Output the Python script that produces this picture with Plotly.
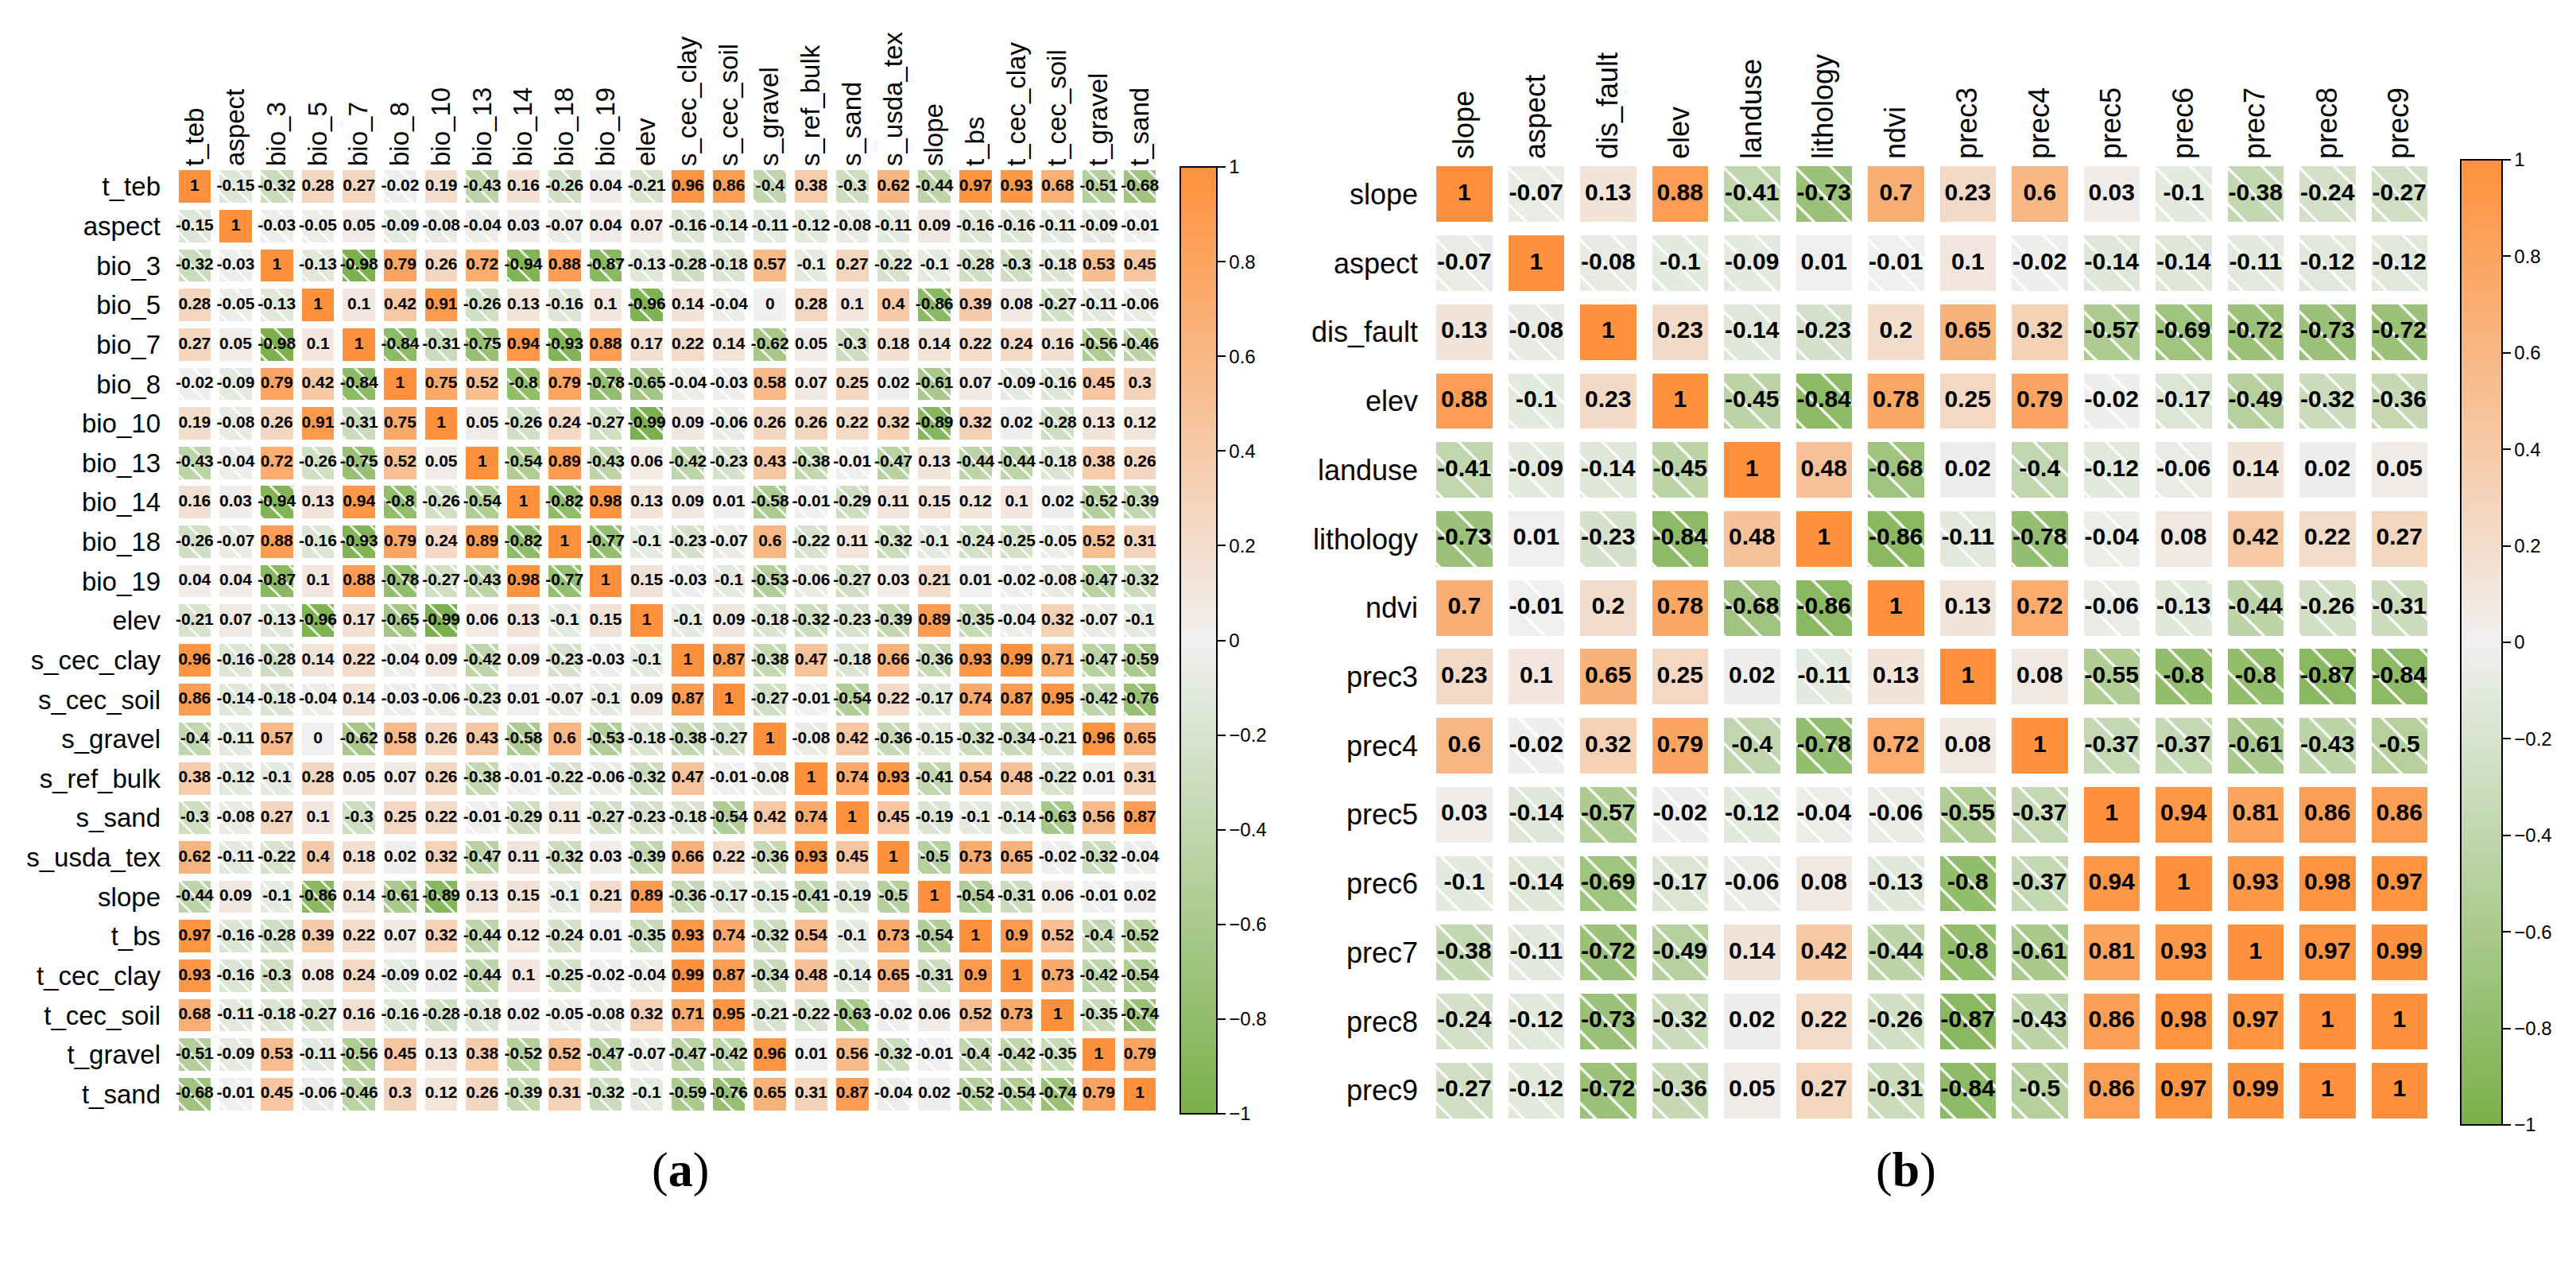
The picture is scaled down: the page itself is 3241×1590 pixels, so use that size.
import plotly.graph_objects as go

# ---------------- data ----------------
labels_a = ["t_teb", "aspect", "bio_3", "bio_5", "bio_7", "bio_8", "bio_10", "bio_13",
            "bio_14", "bio_18", "bio_19", "elev", "s_cec_clay", "s_cec_soil", "s_gravel",
            "s_ref_bulk", "s_sand", "s_usda_tex", "slope", "t_bs", "t_cec_clay",
            "t_cec_soil", "t_gravel", "t_sand"]

corr_a = [
    [1, -0.15, -0.32, 0.28, 0.27, -0.02, 0.19, -0.43, 0.16, -0.26, 0.04, -0.21, 0.96, 0.86, -0.4, 0.38, -0.3, 0.62, -0.44, 0.97, 0.93, 0.68, -0.51, -0.68],
    [-0.15, 1, -0.03, -0.05, 0.05, -0.09, -0.08, -0.04, 0.03, -0.07, 0.04, 0.07, -0.16, -0.14, -0.11, -0.12, -0.08, -0.11, 0.09, -0.16, -0.16, -0.11, -0.09, -0.01],
    [-0.32, -0.03, 1, -0.13, -0.98, 0.79, 0.26, 0.72, -0.94, 0.88, -0.87, -0.13, -0.28, -0.18, 0.57, -0.1, 0.27, -0.22, -0.1, -0.28, -0.3, -0.18, 0.53, 0.45],
    [0.28, -0.05, -0.13, 1, 0.1, 0.42, 0.91, -0.26, 0.13, -0.16, 0.1, -0.96, 0.14, -0.04, 0, 0.28, 0.1, 0.4, -0.86, 0.39, 0.08, -0.27, -0.11, -0.06],
    [0.27, 0.05, -0.98, 0.1, 1, -0.84, -0.31, -0.75, 0.94, -0.93, 0.88, 0.17, 0.22, 0.14, -0.62, 0.05, -0.3, 0.18, 0.14, 0.22, 0.24, 0.16, -0.56, -0.46],
    [-0.02, -0.09, 0.79, 0.42, -0.84, 1, 0.75, 0.52, -0.8, 0.79, -0.78, -0.65, -0.04, -0.03, 0.58, 0.07, 0.25, 0.02, -0.61, 0.07, -0.09, -0.16, 0.45, 0.3],
    [0.19, -0.08, 0.26, 0.91, -0.31, 0.75, 1, 0.05, -0.26, 0.24, -0.27, -0.99, 0.09, -0.06, 0.26, 0.26, 0.22, 0.32, -0.89, 0.32, 0.02, -0.28, 0.13, 0.12],
    [-0.43, -0.04, 0.72, -0.26, -0.75, 0.52, 0.05, 1, -0.54, 0.89, -0.43, 0.06, -0.42, -0.23, 0.43, -0.38, -0.01, -0.47, 0.13, -0.44, -0.44, -0.18, 0.38, 0.26],
    [0.16, 0.03, -0.94, 0.13, 0.94, -0.8, -0.26, -0.54, 1, -0.82, 0.98, 0.13, 0.09, 0.01, -0.58, -0.01, -0.29, 0.11, 0.15, 0.12, 0.1, 0.02, -0.52, -0.39],
    [-0.26, -0.07, 0.88, -0.16, -0.93, 0.79, 0.24, 0.89, -0.82, 1, -0.77, -0.1, -0.23, -0.07, 0.6, -0.22, 0.11, -0.32, -0.1, -0.24, -0.25, -0.05, 0.52, 0.31],
    [0.04, 0.04, -0.87, 0.1, 0.88, -0.78, -0.27, -0.43, 0.98, -0.77, 1, 0.15, -0.03, -0.1, -0.53, -0.06, -0.27, 0.03, 0.21, 0.01, -0.02, -0.08, -0.47, -0.32],
    [-0.21, 0.07, -0.13, -0.96, 0.17, -0.65, -0.99, 0.06, 0.13, -0.1, 0.15, 1, -0.1, 0.09, -0.18, -0.32, -0.23, -0.39, 0.89, -0.35, -0.04, 0.32, -0.07, -0.1],
    [0.96, -0.16, -0.28, 0.14, 0.22, -0.04, 0.09, -0.42, 0.09, -0.23, -0.03, -0.1, 1, 0.87, -0.38, 0.47, -0.18, 0.66, -0.36, 0.93, 0.99, 0.71, -0.47, -0.59],
    [0.86, -0.14, -0.18, -0.04, 0.14, -0.03, -0.06, -0.23, 0.01, -0.07, -0.1, 0.09, 0.87, 1, -0.27, -0.01, -0.54, 0.22, -0.17, 0.74, 0.87, 0.95, -0.42, -0.76],
    [-0.4, -0.11, 0.57, 0, -0.62, 0.58, 0.26, 0.43, -0.58, 0.6, -0.53, -0.18, -0.38, -0.27, 1, -0.08, 0.42, -0.36, -0.15, -0.32, -0.34, -0.21, 0.96, 0.65],
    [0.38, -0.12, -0.1, 0.28, 0.05, 0.07, 0.26, -0.38, -0.01, -0.22, -0.06, -0.32, 0.47, -0.01, -0.08, 1, 0.74, 0.93, -0.41, 0.54, 0.48, -0.22, 0.01, 0.31],
    [-0.3, -0.08, 0.27, 0.1, -0.3, 0.25, 0.22, -0.01, -0.29, 0.11, -0.27, -0.23, -0.18, -0.54, 0.42, 0.74, 1, 0.45, -0.19, -0.1, -0.14, -0.63, 0.56, 0.87],
    [0.62, -0.11, -0.22, 0.4, 0.18, 0.02, 0.32, -0.47, 0.11, -0.32, 0.03, -0.39, 0.66, 0.22, -0.36, 0.93, 0.45, 1, -0.5, 0.73, 0.65, -0.02, -0.32, -0.04],
    [-0.44, 0.09, -0.1, -0.86, 0.14, -0.61, -0.89, 0.13, 0.15, -0.1, 0.21, 0.89, -0.36, -0.17, -0.15, -0.41, -0.19, -0.5, 1, -0.54, -0.31, 0.06, -0.01, 0.02],
    [0.97, -0.16, -0.28, 0.39, 0.22, 0.07, 0.32, -0.44, 0.12, -0.24, 0.01, -0.35, 0.93, 0.74, -0.32, 0.54, -0.1, 0.73, -0.54, 1, 0.9, 0.52, -0.4, -0.52],
    [0.93, -0.16, -0.3, 0.08, 0.24, -0.09, 0.02, -0.44, 0.1, -0.25, -0.02, -0.04, 0.99, 0.87, -0.34, 0.48, -0.14, 0.65, -0.31, 0.9, 1, 0.73, -0.42, -0.54],
    [0.68, -0.11, -0.18, -0.27, 0.16, -0.16, -0.28, -0.18, 0.02, -0.05, -0.08, 0.32, 0.71, 0.95, -0.21, -0.22, -0.63, -0.02, 0.06, 0.52, 0.73, 1, -0.35, -0.74],
    [-0.51, -0.09, 0.53, -0.11, -0.56, 0.45, 0.13, 0.38, -0.52, 0.52, -0.47, -0.07, -0.47, -0.42, 0.96, 0.01, 0.56, -0.32, -0.01, -0.4, -0.42, -0.35, 1, 0.79],
    [-0.68, -0.01, 0.45, -0.06, -0.46, 0.3, 0.12, 0.26, -0.39, 0.31, -0.32, -0.1, -0.59, -0.76, 0.65, 0.31, 0.87, -0.04, 0.02, -0.52, -0.54, -0.74, 0.79, 1],
]

labels_b = ["slope", "aspect", "dis_fault", "elev", "landuse", "lithology", "ndvi",
            "prec3", "prec4", "prec5", "prec6", "prec7", "prec8", "prec9"]

corr_b = [
    [1, -0.07, 0.13, 0.88, -0.41, -0.73, 0.7, 0.23, 0.6, 0.03, -0.1, -0.38, -0.24, -0.27],
    [-0.07, 1, -0.08, -0.1, -0.09, 0.01, -0.01, 0.1, -0.02, -0.14, -0.14, -0.11, -0.12, -0.12],
    [0.13, -0.08, 1, 0.23, -0.14, -0.23, 0.2, 0.65, 0.32, -0.57, -0.69, -0.72, -0.73, -0.72],
    [0.88, -0.1, 0.23, 1, -0.45, -0.84, 0.78, 0.25, 0.79, -0.02, -0.17, -0.49, -0.32, -0.36],
    [-0.41, -0.09, -0.14, -0.45, 1, 0.48, -0.68, 0.02, -0.4, -0.12, -0.06, 0.14, 0.02, 0.05],
    [-0.73, 0.01, -0.23, -0.84, 0.48, 1, -0.86, -0.11, -0.78, -0.04, 0.08, 0.42, 0.22, 0.27],
    [0.7, -0.01, 0.2, 0.78, -0.68, -0.86, 1, 0.13, 0.72, -0.06, -0.13, -0.44, -0.26, -0.31],
    [0.23, 0.1, 0.65, 0.25, 0.02, -0.11, 0.13, 1, 0.08, -0.55, -0.8, -0.8, -0.87, -0.84],
    [0.6, -0.02, 0.32, 0.79, -0.4, -0.78, 0.72, 0.08, 1, -0.37, -0.37, -0.61, -0.43, -0.5],
    [0.03, -0.14, -0.57, -0.02, -0.12, -0.04, -0.06, -0.55, -0.37, 1, 0.94, 0.81, 0.86, 0.86],
    [-0.1, -0.14, -0.69, -0.17, -0.06, 0.08, -0.13, -0.8, -0.37, 0.94, 1, 0.93, 0.98, 0.97],
    [-0.38, -0.11, -0.72, -0.49, 0.14, 0.42, -0.44, -0.8, -0.61, 0.81, 0.93, 1, 0.97, 0.99],
    [-0.24, -0.12, -0.73, -0.32, 0.02, 0.22, -0.26, -0.87, -0.43, 0.86, 0.98, 0.97, 1, 1],
    [-0.27, -0.12, -0.72, -0.36, 0.05, 0.27, -0.31, -0.84, -0.5, 0.86, 0.97, 0.99, 1, 1],
]

cbar_ticks = [-1, -0.8, -0.6, -0.4, -0.2, 0, 0.2, 0.4, 0.6, 0.8, 1]

# ---------------- styling ----------------
W, H = 3241, 1590
NEG = (122, 176, 74)
MID = (240, 240, 240)
POS = (255, 145, 60)
SANS = "Liberation Sans, Arial, sans-serif"
SERIF = "Liberation Serif, Times New Roman, serif"


def mix(c1, c2, t):
    return tuple(round(a + (b - a) * t) for a, b in zip(c1, c2))


def value_color(v):
    c = mix(MID, POS, v) if v >= 0 else mix(MID, NEG, -v)
    return "rgb(%d,%d,%d)" % c


colorscale = [[0.0, "rgb(%d,%d,%d)" % NEG], [0.5, "rgb(%d,%d,%d)" % MID],
              [1.0, "rgb(%d,%d,%d)" % POS]]


def tick_text(v):
    if v == 0:
        return "0"
    s = ("%g" % abs(v))
    return ("\u2212" + s) if v < 0 else s


def px(v, total):
    return v / total


fig = go.Figure()


def add_panel(corr, labels, xa, ya, cw, ch, tsize, psize, psol, cb):
    pos = dict(x=[], base=[], col=[])
    neg = dict(x=[], base=[], col=[])
    xs, ys, texts = [], [], []
    for i, row in enumerate(corr):
        for j, v in enumerate(row):
            grp = neg if v < 0 else pos
            grp["x"].append(j)
            grp["base"].append(i - ch / 2)
            grp["col"].append(value_color(v))
            xs.append(j)
            ys.append(i)
            texts.append(str(v))
    # non-negative tiles: plain fill
    fig.add_trace(go.Bar(
        x=pos["x"], y=[ch] * len(pos["x"]), base=pos["base"], width=cw,
        marker=dict(color=pos["col"], line=dict(width=0)),
        xaxis=xa, yaxis=ya, hoverinfo="skip", showlegend=False))
    # negative tiles: fill + white diagonal hatching
    fig.add_trace(go.Bar(
        x=neg["x"], y=[ch] * len(neg["x"]), base=neg["base"], width=cw,
        marker=dict(color="rgb(200,220,180)", line=dict(width=0),
                    pattern=dict(shape="\\", bgcolor=neg["col"], fgcolor="white",
                                 fgopacity=1, size=psize, solidity=psol)),
        xaxis=xa, yaxis=ya, hoverinfo="skip", showlegend=False))
    fig.add_trace(go.Scatter(
        x=xs, y=ys, mode="text", text=texts, textposition="middle center",
        textfont=dict(family=SANS, size=tsize, color="black", weight="bold"),
        xaxis=xa, yaxis=ya, hoverinfo="skip", showlegend=False))
    # colour bar carrier
    fig.add_trace(go.Scatter(
        x=[0], y=[0], mode="markers",
        marker=dict(size=1, opacity=0, color=[0], colorscale=colorscale, cmin=-1, cmax=1,
                    showscale=True, colorbar=cb),
        xaxis=xa, yaxis=ya, hoverinfo="skip", showlegend=False))


def make_cb(x_left, top, bottom, thick, fsize):
    return dict(x=px(x_left, W), xanchor="left", xpad=0, ypad=0,
                y=1 - px(bottom, H), yanchor="bottom",
                len=bottom - top, lenmode="pixels",
                thickness=thick, thicknessmode="pixels",
                outlinewidth=2, outlinecolor="black",
                tickmode="array", tickvals=cbar_ticks,
                ticktext=[tick_text(v) for v in cbar_ticks],
                ticks="outside", ticklen=10, tickwidth=1.5, tickcolor="black",
                tickfont=dict(family=SANS, size=fsize, color="black"))


# panel (a)
A_L, A_R, A_T, A_B = 211, 1452, 202, 1393
add_panel(corr_a, labels_a, "x", "y", 0.787, 0.82, 21, 18, 0.14,
          make_cb(1477, A_T, A_B, 46, 24))
# panel (b)
B_L, B_R, B_T, B_B = 1789, 3056, 193, 1407
add_panel(corr_b, labels_b, "x2", "y2", 0.779, 0.807, 30, 32, 0.1,
          make_cb(3088, B_T, B_B, 52, 24))

ax_common = dict(showgrid=False, zeroline=False, showline=False, ticks="",
                 tickmode="array", fixedrange=True)

fig.update_layout(
    width=W, height=H,
    margin=dict(l=0, r=0, t=0, b=0),
    paper_bgcolor="white", plot_bgcolor="white",
    barmode="overlay", bargap=0,
    xaxis=dict(domain=[px(A_L, W), px(A_R, W)], range=[-0.5, len(labels_a) - 0.5],
               side="top", tickvals=list(range(len(labels_a))), ticktext=labels_a,
               tickangle=-90, tickfont=dict(family=SANS, size=33, color="black"),
               anchor="y", **ax_common),
    yaxis=dict(domain=[1 - px(A_B, H), 1 - px(A_T, H)], range=[len(labels_a) - 0.5, -0.5],
               tickvals=list(range(len(labels_a))), ticktext=labels_a,
               tickfont=dict(family=SANS, size=33, color="black"), ticklabelstandoff=16,
               anchor="x", **ax_common),
    xaxis2=dict(domain=[px(B_L, W), px(B_R, W)], range=[-0.5, len(labels_b) - 0.5],
                side="top", tickvals=list(range(len(labels_b))), ticktext=labels_b,
                tickangle=-90, tickfont=dict(family=SANS, size=36, color="black"),
                anchor="y2", **ax_common),
    yaxis2=dict(domain=[1 - px(B_B, H), 1 - px(B_T, H)], range=[len(labels_b) - 0.5, -0.5],
                tickvals=list(range(len(labels_b))), ticktext=labels_b,
                tickfont=dict(family=SANS, size=36, color="black"), ticklabelstandoff=12,
                anchor="x2", **ax_common),
    annotations=[
        dict(text="(<b>a</b>)", x=px(810, W), y=1 - px(1500, H), xref="paper", yref="paper",
             showarrow=False, font=dict(family=SERIF, size=62, color="black")),
        dict(text="(<b>b</b>)", x=px(2430, W), y=1 - px(1500, H), xref="paper", yref="paper",
             showarrow=False, font=dict(family=SERIF, size=62, color="black")),
    ],
)

fig.write_html("out.html")
